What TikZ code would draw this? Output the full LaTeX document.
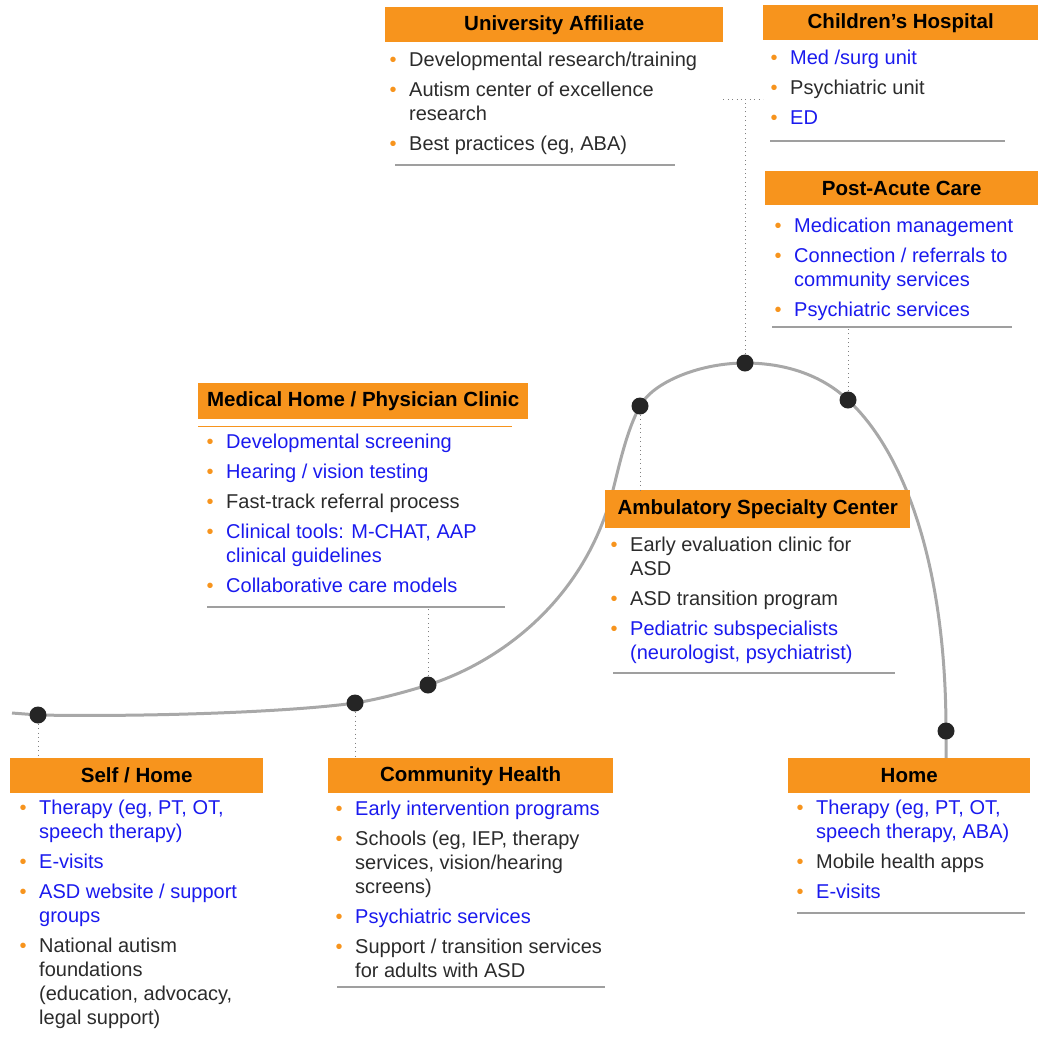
\documentclass[tikz,border=0pt]{standalone}
\usepackage{fontspec}
\setmainfont{Liberation Sans}
\definecolor{hdor}{HTML}{F7941D}
\definecolor{lnk}{HTML}{1A1AEE}
\definecolor{txt}{HTML}{2B2B2B}
\definecolor{curvc}{HTML}{A8A8A8}
\definecolor{dotc}{HTML}{252525}
\newcommand\bu{\makebox[0pt][r]{\textcolor{hdor}{\fontsize{20}{20}\selectfont\textbullet}\hspace{12.5pt}}}
\newcommand\bl[1]{\textcolor{lnk}{#1}}
\begin{document}
\begin{tikzpicture}[x=1pt,y=-1pt,
 hd/.style={fill=hdor,anchor=north west,inner sep=0,text=black,font=\bfseries\fontsize{20.5}{24}\selectfont},
 lst/.style={anchor=north west,inner sep=0,align=left,text=txt,font=\fontsize{20}{24}\selectfont},
 rl/.style={draw=gray!75,line width=1.5pt},
 con/.style={draw=gray,line width=.9pt,dash pattern=on .9pt off 3.5pt},
 curv/.style={draw=curvc,line width=3pt},
 dot/.style={circle,fill=dotc,inner sep=0,minimum size=17pt}]
\useasboundingbox (0,0) rectangle (1038,1037);
% points on the curve
\coordinate (p1) at (38,715); \coordinate (p2) at (355,703); \coordinate (p3) at (428,685);
\coordinate (p4) at (640,406); \coordinate (p5) at (745,363); \coordinate (p6) at (848,400);
\coordinate (p7) at (946,731);
\draw[curv] (12,713) .. controls (25,714) .. (p1) .. controls (150,717) and (290,712) .. (p2)
 .. controls (380,699) and (405,692) .. (p3) .. controls (500,662) and (585,600) .. (613,490)
 .. controls (620,462) and (627,430) .. (p4) .. controls (653,382) and (700,363) .. (p5)
 .. controls (790,363) and (825,378) .. (p6) .. controls (902,450) and (946,560) .. (p7) -- (946,758);
% headers
\node[hd,minimum width=338pt,minimum height=35pt] (uni) at (385,7) {University Affiliate};
\node[hd,minimum width=275pt,minimum height=35pt] (chi) at (763,5) {Children’s Hospital};
\node[hd,minimum width=273pt,minimum height=34pt] (post) at (765,171) {Post-Acute Care};
\node[hd,minimum width=330pt,minimum height=36pt] (med) at (198,383) {Medical Home / Physician Clinic};
\node[hd,minimum width=305pt,minimum height=38pt] (amb) at (605,490) {Ambulatory Specialty Center};
\node[hd,minimum width=253pt,minimum height=35pt] (self) at (10,758) {Self / Home};
\node[hd,minimum width=285pt,minimum height=35pt] (comm) at (328,758) {Community Health};
\node[hd,minimum width=242pt,minimum height=35pt] (home) at (788,758) {Home};
\draw[hdor,line width=1.5pt] ([yshift=-7pt]med.south west) -- +(314,0);
% lists
\node[lst] (uniL) at (409,51.5) {\bu Developmental research/training\\[6pt]
 \bu Autism center of excellence\\ research\\[6pt]
 \bu Best practices (eg, ABA)};
\node[lst] (chiL) at (790,49.5) {\bu\bl{Med /surg unit}\\[6pt]
 \bu Psychiatric unit\\[6pt]
 \bu\bl{ED}};
\node[lst] (postL) at (794,217.5) {\bu\bl{Medication management}\\[6pt]
 \bu\bl{Connection / referrals to}\\ \bl{community services}\\[6pt]
 \bu\bl{Psychiatric services}};
\node[lst] (medL) at (226,433.5) {\bu\bl{Developmental screening}\\[6pt]
 \bu\bl{Hearing / vision testing}\\[6pt]
 \bu Fast-track referral process\\[6pt]
 \bu\bl{Clinical tools: M-CHAT, AAP}\\ \bl{clinical guidelines}\\[6pt]
 \bu\bl{Collaborative care models}};
\node[lst] (ambL) at (630,536.5) {\bu Early evaluation clinic for\\ ASD\\[6pt]
 \bu ASD transition program\\[6pt]
 \bu\bl{Pediatric subspecialists}\\ \bl{(neurologist, psychiatrist)}};
\node[lst] (selfL) at (39,799.5) {\bu\bl{Therapy (eg, PT, OT,}\\ \bl{speech therapy)}\\[6pt]
 \bu\bl{E-visits}\\[6pt]
 \bu\bl{ASD website / support}\\ \bl{groups}\\[6pt]
 \bu National autism\\ foundations\\ (education, advocacy,\\ legal support)};
\node[lst] (commL) at (355,800.5) {\bu\bl{Early intervention programs}\\[6pt]
 \bu Schools (eg, IEP, therapy\\ services, vision/hearing\\ screens)\\[6pt]
 \bu\bl{Psychiatric services}\\[6pt]
 \bu Support / transition services\\ for adults with ASD};
\node[lst] (homeL) at (816,799.5) {\bu\bl{Therapy (eg, PT, OT,}\\ \bl{speech therapy, ABA)}\\[6pt]
 \bu Mobile health apps\\[6pt]
 \bu\bl{E-visits}};
% rules under the lists
\draw[rl] (395,165) -- (675,165);
\draw[rl] (770,141) -- (1005,141);
\draw[rl] (772,327) coordinate (postR) -- (1012,327);
\draw[rl] (207,607) coordinate (medR) -- (505,607);
\draw[rl] (613,673) -- (895,673);
\draw[rl] (337,987) -- (605,987);
\draw[rl] (797,913) -- (1025,913);
% dots and links
\foreach \i in {1,...,7} \node[dot] (d\i) at (p\i) {};
\coordinate (tj) at (744,99);
\draw[con] (d1) -- (d1 |- self.north);
\draw[con] (d2) -- (d2 |- comm.north);
\draw[con] (d3) -- (d3 |- medR);
\draw[con] (d4) -- (d4 |- amb.north);
\draw[con] (d5) -- (d5 |- tj);
\draw[con] (tj -| uni.east) -- (tj -| chi.west);
\draw[con] (d6) -- (d6 |- postR);
\end{tikzpicture}
\end{document}
